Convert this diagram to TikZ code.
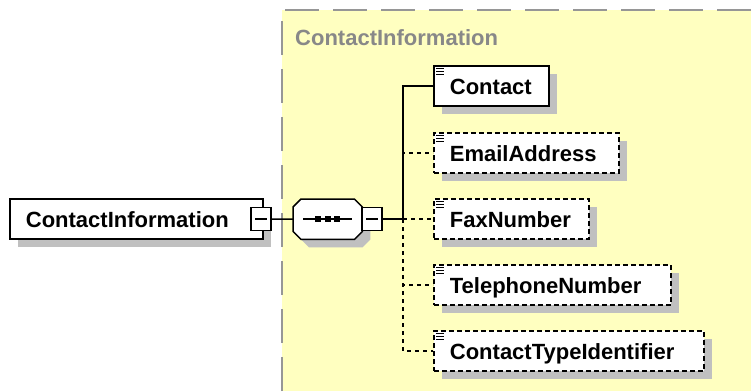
\documentclass[tikz,border=0pt]{standalone}
\usepackage{fontspec}
\setmainfont{Liberation Sans}
\usetikzlibrary{shadows}
\definecolor{bgyellow}{RGB}{255,255,192}
\definecolor{shadowgray}{RGB}{192,192,192}
\definecolor{labelgray}{RGB}{136,136,136}
\definecolor{bordergray}{RGB}{150,150,150}
\tikzset{
  elemfont/.style={font=\bfseries\fontsize{22}{24}\selectfont},
  elembox/.style={elemfont, draw, line width=1.8pt, fill=white, rectangle, anchor=west,
    minimum height=40pt, inner xsep=16pt, inner ysep=0pt, align=left,
    text height=16pt, text depth=0pt,
    drop shadow={shadow xshift=8pt, shadow yshift=-8pt, fill=shadowgray, draw=none, opacity=1}},
  optbox/.style={elembox, dash pattern=on 5pt off 3pt},
  conn/.style={line width=1.5pt},
  optconn/.style={conn, dash pattern=on 4pt off 4pt},
  minusbox/.style={draw, line width=1.3pt, fill=white, minimum width=20pt, minimum height=23pt, inner sep=0pt},
  iconline/.style={line width=1.2pt},
}
\begin{document}
\begin{tikzpicture}[x=1pt,y=-1pt]
\useasboundingbox (0,0) rectangle (751,391);
% background region
\fill[bgyellow] (282,10) rectangle (751,391);
\draw[bordergray, line width=2pt, dash pattern=on 34pt off 14pt] (282,391) -- (282,10) -- (751,10);
\node[elemfont, text=labelgray, anchor=west, text height=16pt, text depth=0pt, inner sep=0pt] (lbl) at (295,37) {ContactInformation};

% left element
\node[elembox, text width=221pt] (ci) at (9,219) {ContactInformation};
\node[minusbox] (ciminus) at (261,219) {};
\draw[line width=1.3pt] ([xshift=-6pt]ciminus.center) -- ([xshift=6pt]ciminus.center);

% sequence compositor
\node[minimum width=69pt, minimum height=40pt, inner sep=0pt, anchor=north west] (seq) at (293,199) {};
\fill[shadowgray, transform canvas={shift={(8pt,-8pt)}}]
  ([xshift=8pt]seq.north west) -- ([xshift=-8pt]seq.north east) -- ([yshift=-8pt]seq.north east)
  -- ([yshift=8pt]seq.south east) -- ([xshift=-8pt]seq.south east) -- ([xshift=8pt]seq.south west)
  -- ([yshift=8pt]seq.south west) -- ([yshift=-8pt]seq.north west) -- cycle;
\draw[fill=white, line width=1.5pt]
  ([xshift=8pt]seq.north west) -- ([xshift=-8pt]seq.north east) -- ([yshift=-8pt]seq.north east)
  -- ([yshift=8pt]seq.south east) -- ([xshift=-8pt]seq.south east) -- ([xshift=8pt]seq.south west)
  -- ([yshift=8pt]seq.south west) -- ([yshift=-8pt]seq.north west) -- cycle;
\draw[line width=1.5pt] ([xshift=-24.5pt]seq.center) -- ([xshift=24.5pt]seq.center);
\foreach \dx in {-9.5,0,9.5}
  \fill ([xshift=\dx pt-3pt, yshift=-3pt]seq.center) rectangle ([xshift=\dx pt+3pt, yshift=3pt]seq.center);
\node[minusbox] (seqminus) at (372,219) {};
\draw[line width=1.3pt] ([xshift=-6pt]seqminus.center) -- ([xshift=6pt]seqminus.center);

% children
\node[elembox, text width=83pt] (contact) at (433,86) {Contact};
\node[optbox, text width=153pt] (email) at (433,153) {EmailAddress};
\node[optbox, text width=123pt] (fax) at (433,219) {FaxNumber};
\node[optbox, text width=205pt] (tel) at (433,285) {TelephoneNumber};
\node[optbox, text width=238pt] (cti) at (433,351) {ContactTypeIdentifier};
\foreach \n in {contact,email,fax,tel,cti}{
  \foreach \dy in {3,6,9}
    \draw[iconline] ([xshift=3pt, yshift=-\dy pt]\n.north west) -- ([xshift=11pt, yshift=-\dy pt]\n.north west);
}

% connectors
\coordinate (J) at (403,219);
\draw[conn] (ciminus.east) -- (seq.west);
\draw[conn] (seqminus.east) -- (J);
\draw[optconn] (J) |- (email.west);
\draw[optconn] (J) -- (fax.west);
\draw[optconn] (J) |- (tel.west);
\draw[optconn] (J) |- (cti.west);
\draw[conn] (J) |- (contact.west);
\end{tikzpicture}
\end{document}
